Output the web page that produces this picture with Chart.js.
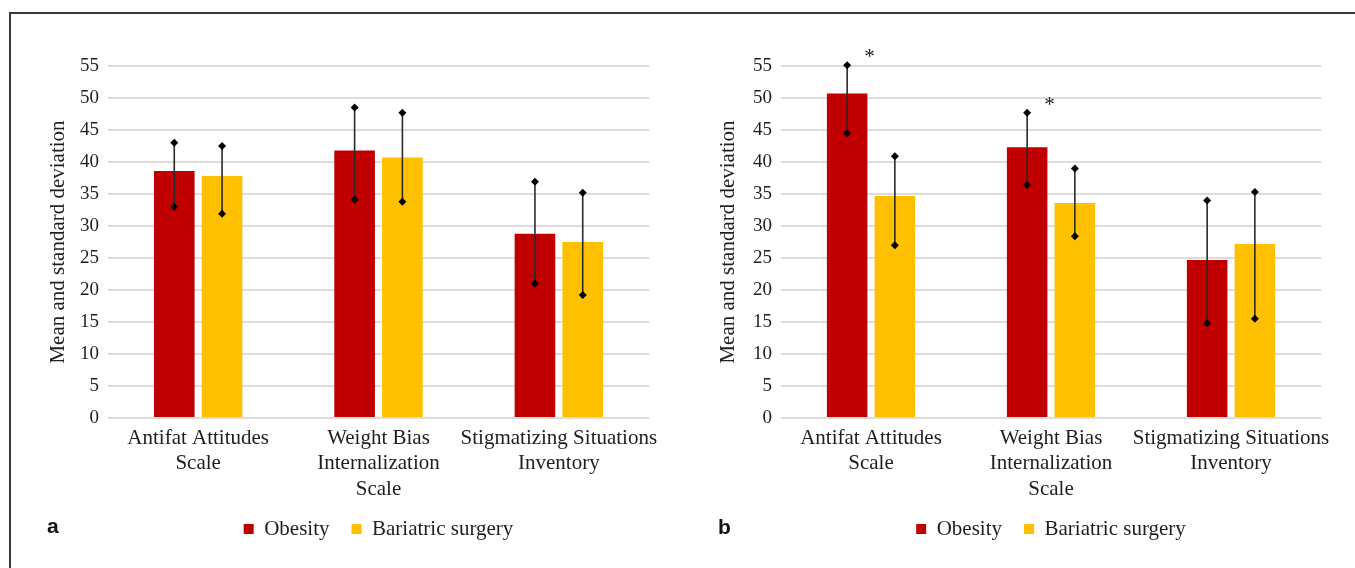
<!DOCTYPE html>
<html>
<head>
<meta charset="utf-8">
<script src="https://cdn.jsdelivr.net/npm/chart.js@4/dist/chart.umd.min.js"></script>
<style>
  html, body { margin: 0; padding: 0; background: #fff; }
  #page { position: relative; width: 1355px; height: 568px; overflow: hidden; }
  #frame { position: absolute; left: 9px; top: 12px; right: -10px; bottom: -10px;
           border-top: 2px solid #3a3a3a; border-left: 2px solid #3a3a3a; }
  .panel { position: absolute; top: 0; }
  .tag { position: absolute; font: bold 21px 'Liberation Sans', Arial, sans-serif;
         line-height: 21px; color: #111; }
</style>
</head>
<body>
<div id="page">
  <div id="frame"></div>
  <canvas id="chartA" class="panel" style="left:0" width="680" height="568"></canvas>
  <canvas id="chartB" class="panel" style="left:680px" width="675" height="568"></canvas>
  <div class="tag" style="left:47px;top:515px">a</div>
  <div class="tag" style="left:718px;top:516px">b</div>
</div>
<script>
// Scales compared in both panels (multi-line category labels)
const categories = [
  ['Antifat Attitudes', 'Scale'],
  ['Weight Bias', 'Internalization', 'Scale'],
  ['Stigmatizing Situations', 'Inventory']
];
const seriesNames = ['Obesity', 'Bariatric surgery'];
const seriesColors = ['#C00000', '#FFC000'];
const yMin = 0, yMax = 55, yStep = 5;
const yTitle = 'Mean and standard deviation';

// Panel a: means and the ends of the standard-deviation bars
const aObesityMean = [38.6, 41.8, 28.8];
const aObesityHigh = [43.0, 48.5, 36.9];
const aObesityLow  = [33.0, 34.1, 21.0];
const aBariatricMean = [37.8, 40.7, 27.5];
const aBariatricHigh = [42.5, 47.7, 35.2];
const aBariatricLow  = [31.9, 33.8, 19.2];

// Panel b
const bObesityMean = [50.7, 42.3, 24.7];
const bObesityHigh = [55.1, 47.7, 34.0];
const bObesityLow  = [44.5, 36.4, 14.8];
const bObesityMarks = ['*', '*', ''];
const bBariatricMean = [34.7, 33.6, 27.2];
const bBariatricHigh = [40.9, 39.0, 35.3];
const bBariatricLow  = [27.0, 28.4, 15.5];

const SERIF = "'Liberation Serif', 'Times New Roman', serif";
const INK = '#1e1e1e';

// Draws SD whiskers with diamond caps, plus significance marks
const errorBars = {
  id: 'errorBars',
  afterDatasetsDraw(chart) {
    const ctx = chart.ctx;
    const y = chart.scales.y;
    chart.data.datasets.forEach((ds, di) => {
      const meta = chart.getDatasetMeta(di);
      meta.data.forEach((bar, i) => {
        const x = bar.x;
        const yHi = y.getPixelForValue(ds.errHigh[i]);
        const yLo = y.getPixelForValue(ds.errLow[i]);
        ctx.save();
        ctx.strokeStyle = '#2a2a2a';
        ctx.lineWidth = 1.6;
        ctx.beginPath();
        ctx.moveTo(x, yHi);
        ctx.lineTo(x, yLo);
        ctx.stroke();
        ctx.fillStyle = '#000';
        [yHi, yLo].forEach(yy => {
          const r = 4;
          ctx.beginPath();
          ctx.moveTo(x, yy - r);
          ctx.lineTo(x + r, yy);
          ctx.lineTo(x, yy + r);
          ctx.lineTo(x - r, yy);
          ctx.closePath();
          ctx.fill();
        });
        if (ds.marks && ds.marks[i]) {
          ctx.font = '21px ' + SERIF;
          ctx.fillStyle = INK;
          ctx.textAlign = 'center';
          ctx.textBaseline = 'alphabetic';
          ctx.fillText(ds.marks[i], x + bar.width / 2 + 2, yHi - 2);
        }
        ctx.restore();
      });
    });
  }
};

function makeDataset(i, mean, high, low, marks) {
  return {
    label: seriesNames[i],
    data: mean,
    errHigh: high,
    errLow: low,
    marks: marks,
    backgroundColor: seriesColors[i],
    borderWidth: 0,
    categoryPercentage: 0.53,
    barPercentage: 0.85
  };
}

function buildChart(id, datasets, yWidth, padRight, titlePad) {
  return new Chart(document.getElementById(id), {
    type: 'bar',
    data: { labels: categories, datasets: datasets },
    plugins: [errorBars],
    options: {
      responsive: false,
      animation: false,
      layout: { padding: { top: 66, left: 0, right: padRight, bottom: 18.5 } },
      plugins: {
        tooltip: { enabled: false },
        legend: {
          position: 'bottom',
          fullSize: false,
          labels: {
            boxWidth: 10,
            boxHeight: 10,
            padding: 22,
            color: INK,
            font: { family: SERIF, size: 21 }
          }
        }
      },
      scales: {
        x: {
          grid: { display: false },
          border: { display: false },
          ticks: {
            color: INK,
            padding: 0,
            maxRotation: 0,
            autoSkip: false,
            font: { family: SERIF, size: 21, lineHeight: 1.2 }
          },
          afterFit(scale) { scale.height = 78.5; }
        },
        y: {
          min: yMin,
          max: yMax,
          grid: { color: '#dcdcdc', lineWidth: 2, drawTicks: false },
          border: { display: false },
          ticks: {
            stepSize: yStep,
            padding: 9,
            color: INK,
            font: { family: SERIF, size: 19 }
          },
          title: {
            display: true,
            text: yTitle,
            color: INK,
            padding: { top: titlePad, bottom: 0 },
            font: { family: SERIF, size: 21, lineHeight: 1.2 }
          },
          afterFit(scale) { scale.width = yWidth; }
        }
      }
    }
  });
}

buildChart('chartA', [
  makeDataset(0, aObesityMean, aObesityHigh, aObesityLow, null),
  makeDataset(1, aBariatricMean, aBariatricHigh, aBariatricLow, null)
], 108, 31, 46);

buildChart('chartB', [
  makeDataset(0, bObesityMean, bObesityHigh, bObesityLow, bObesityMarks),
  makeDataset(1, bBariatricMean, bBariatricHigh, bBariatricLow, null)
], 101, 34, 36);
</script>
</body>
</html>
